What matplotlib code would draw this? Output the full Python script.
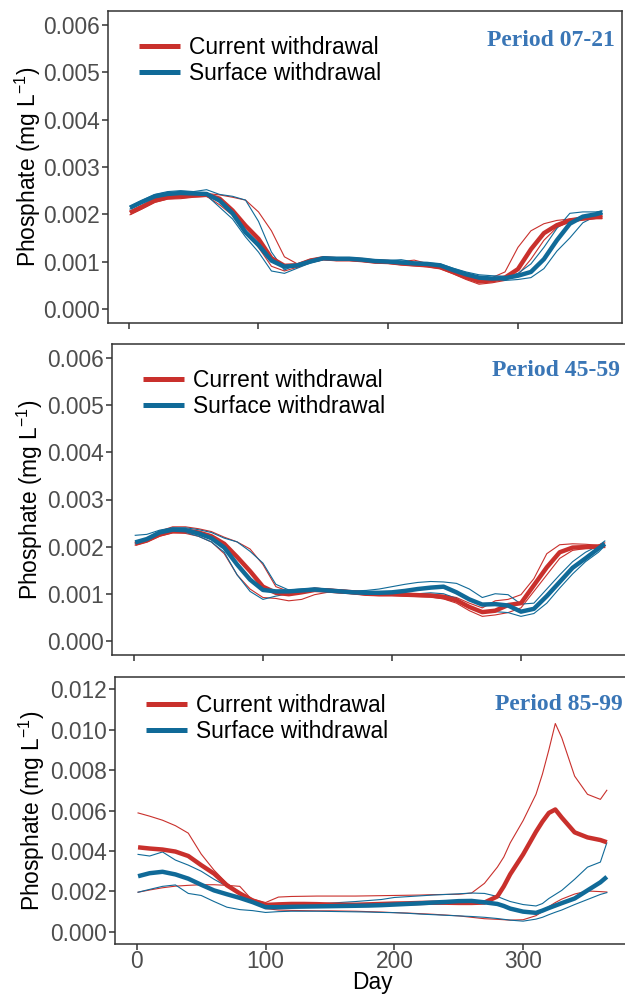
import matplotlib.pyplot as plt
import numpy as np

# Phosphate concentrations below are stored in units of 0.001 mg/L
days = [1, 10, 20, 30, 40, 50, 60, 70, 80, 90, 100, 110, 120, 130, 140, 150,
        160, 170, 180, 190, 200, 210, 220, 230, 240, 250, 260, 270, 280, 290,
        300, 310, 320, 330, 340, 350, 360, 365]

# Period 07-21
p1_cur_mean = [2.03, 2.15, 2.29, 2.36, 2.38, 2.40, 2.41, 2.33, 2.08, 1.76, 1.48, 1.07, 0.91,
               0.92, 1.02, 1.07, 1.05, 1.05, 1.03, 1.00, 0.99, 0.96, 0.94, 0.92, 0.88, 0.78,
               0.67, 0.58, 0.60, 0.66, 0.84, 1.26, 1.60, 1.77, 1.87, 1.91, 1.94, 1.94]
p1_cur_hi = [2.07, 2.19, 2.33, 2.40, 2.42, 2.43, 2.44, 2.41, 2.36, 2.30, 2.05, 1.65, 1.10,
             0.95, 1.05, 1.09, 1.08, 1.07, 1.05, 1.03, 1.02, 1.00, 1.03, 0.96, 0.92, 0.83,
             0.72, 0.63, 0.66, 0.78, 1.30, 1.65, 1.80, 1.87, 1.90, 1.93, 1.97, 1.96]
p1_cur_lo = [1.99, 2.11, 2.25, 2.32, 2.33, 2.36, 2.38, 2.20, 1.98, 1.62, 1.30, 0.90, 0.80,
             0.88, 0.98, 1.04, 1.02, 1.02, 1.00, 0.97, 0.96, 0.93, 0.91, 0.89, 0.85, 0.74,
             0.62, 0.52, 0.55, 0.60, 0.72, 1.05, 1.45, 1.72, 1.84, 1.88, 1.91, 1.92]
p1_srf_mean = [2.14, 2.26, 2.38, 2.43, 2.45, 2.44, 2.43, 2.29, 2.02, 1.62, 1.35, 1.02, 0.89,
               0.92, 1.00, 1.07, 1.06, 1.06, 1.04, 1.01, 1.00, 0.98, 0.96, 0.95, 0.92, 0.82,
               0.73, 0.66, 0.64, 0.65, 0.70, 0.78, 1.05, 1.45, 1.80, 1.95, 2.00, 2.04]
p1_srf_hi = [2.17, 2.29, 2.42, 2.48, 2.50, 2.48, 2.52, 2.42, 2.38, 2.30, 1.85, 1.20, 0.82,
             0.95, 1.03, 1.09, 1.08, 1.08, 1.06, 1.03, 1.02, 1.04, 0.99, 0.97, 0.95, 0.86,
             0.78, 0.72, 0.70, 0.69, 0.75, 0.95, 1.30, 1.70, 2.02, 2.05, 2.05, 2.07]
p1_srf_lo = [2.11, 2.23, 2.35, 2.39, 2.40, 2.40, 2.40, 2.15, 1.90, 1.52, 1.20, 0.80, 0.75,
             0.86, 0.97, 1.04, 1.03, 1.03, 1.01, 0.98, 0.97, 0.95, 0.93, 0.92, 0.88, 0.78,
             0.69, 0.62, 0.60, 0.60, 0.62, 0.66, 0.85, 1.22, 1.50, 1.82, 1.96, 2.01]

# Period 45-59
p2_cur_mean = [2.06, 2.13, 2.26, 2.33, 2.34, 2.30, 2.22, 2.06, 1.78, 1.48, 1.15, 1.02, 0.99,
               1.03, 1.08, 1.07, 1.05, 1.03, 1.00, 0.99, 0.99, 0.98, 0.97, 0.96, 0.93, 0.86,
               0.72, 0.61, 0.64, 0.76, 0.80, 1.18, 1.56, 1.88, 1.98, 1.99, 2.00, 2.04]
p2_cur_hi = [2.09, 2.18, 2.33, 2.42, 2.42, 2.38, 2.32, 2.20, 2.10, 1.95, 1.62, 1.15, 1.05,
             1.07, 1.12, 1.10, 1.08, 1.06, 1.03, 1.02, 1.02, 1.01, 1.00, 0.99, 0.97, 0.92,
             0.80, 0.70, 0.85, 0.88, 0.98, 1.32, 1.85, 2.04, 2.06, 2.05, 2.03, 2.08]
p2_cur_lo = [2.03, 2.10, 2.22, 2.29, 2.28, 2.22, 2.10, 1.85, 1.40, 1.10, 0.92, 0.90, 0.85,
             0.88, 0.98, 1.03, 1.02, 1.00, 0.97, 0.96, 0.96, 0.95, 0.94, 0.93, 0.89, 0.80,
             0.64, 0.52, 0.55, 0.60, 0.70, 1.05, 1.40, 1.75, 1.92, 1.96, 1.97, 1.98]
p2_srf_mean = [2.09, 2.16, 2.30, 2.36, 2.35, 2.28, 2.18, 1.98, 1.62, 1.30, 1.08, 1.05, 1.05,
               1.07, 1.09, 1.07, 1.05, 1.03, 1.02, 1.02, 1.03, 1.06, 1.10, 1.13, 1.15, 1.03,
               0.88, 0.77, 0.78, 0.75, 0.62, 0.68, 0.95, 1.25, 1.55, 1.75, 1.96, 2.06]
p2_srf_hi = [2.24, 2.26, 2.35, 2.40, 2.40, 2.36, 2.30, 2.18, 2.10, 1.90, 1.65, 1.20, 1.08,
             1.10, 1.12, 1.10, 1.08, 1.06, 1.07, 1.10, 1.15, 1.20, 1.24, 1.26, 1.25, 1.22,
             1.10, 0.92, 1.00, 0.98, 0.78, 0.80, 1.10, 1.40, 1.68, 1.88, 2.02, 2.12]
p2_srf_lo = [2.06, 2.12, 2.25, 2.31, 2.30, 2.22, 2.10, 1.88, 1.40, 1.05, 0.88, 0.95, 1.00,
             1.03, 1.06, 1.04, 1.02, 1.00, 0.98, 0.98, 0.98, 0.99, 1.00, 1.02, 1.00, 0.90,
             0.72, 0.60, 0.62, 0.60, 0.52, 0.58, 0.80, 1.12, 1.42, 1.68, 1.88, 2.02]

# Period 85-99 (finer steps around the autumn peak)
days3 = [1, 10, 20, 30, 40, 50, 60, 70, 80, 90, 100, 110, 120, 130, 140, 150, 160,
         170, 180, 190, 200, 210, 220, 230, 240, 250, 260, 270, 280, 285, 290, 300,
         310, 315, 320, 325, 330, 340, 350, 360, 365]
p3_cur_mean = [4.18, 4.12, 4.07, 3.97, 3.75, 3.30, 2.88, 2.30, 1.90, 1.55, 1.33, 1.36, 1.38,
               1.38, 1.37, 1.35, 1.34, 1.34, 1.36, 1.38, 1.40, 1.41, 1.43, 1.44, 1.44, 1.43,
               1.43, 1.45, 1.75, 2.25, 2.85, 3.83, 4.95, 5.45, 5.88, 6.05, 5.65, 4.92, 4.67,
               4.54, 4.43]
p3_cur_hi = [5.88, 5.72, 5.52, 5.25, 4.88, 3.85, 3.05, 2.40, 1.95, 1.62, 1.45, 1.72, 1.75,
             1.76, 1.77, 1.77, 1.77, 1.77, 1.78, 1.79, 1.80, 1.81, 1.82, 1.84, 1.85, 1.86,
             1.92, 2.40, 3.20, 3.70, 4.40, 5.50, 6.80, 7.80, 9.00, 10.30, 9.60, 7.70, 6.80,
             6.55, 7.00]
p3_cur_lo = [1.96, 2.07, 2.18, 2.26, 2.30, 2.33, 2.33, 2.30, 2.25, 1.55, 1.15, 1.08, 1.06,
             1.05, 1.04, 1.04, 1.03, 1.02, 1.00, 0.98, 0.95, 0.93, 0.90, 0.87, 0.83, 0.79,
             0.72, 0.65, 0.62, 0.60, 0.58, 0.60, 0.80, 1.00, 1.25, 1.45, 1.62, 1.87, 2.02,
             1.99, 1.97]
p3_srf_mean = [2.75, 2.90, 2.97, 2.84, 2.63, 2.33, 2.05, 1.86, 1.68, 1.47, 1.22, 1.22, 1.24,
               1.25, 1.26, 1.27, 1.28, 1.29, 1.30, 1.32, 1.35, 1.38, 1.41, 1.45, 1.48, 1.52,
               1.53, 1.46, 1.38, 1.28, 1.15, 1.00, 0.94, 1.05, 1.18, 1.30, 1.42, 1.65, 2.05,
               2.45, 2.72]
p3_srf_hi = [3.83, 3.75, 3.95, 3.55, 3.30, 3.00, 2.60, 2.25, 1.92, 1.50, 1.22, 1.28, 1.32,
             1.35, 1.38, 1.42, 1.46, 1.50, 1.55, 1.60, 1.70, 1.74, 1.78, 1.82, 1.85, 1.88,
             1.92, 1.90, 1.75, 1.62, 1.50, 1.35, 1.28, 1.40, 1.65, 1.85, 2.05, 2.60, 3.20,
             3.45, 4.40]
p3_srf_lo = [1.96, 2.10, 2.25, 2.32, 1.90, 1.80, 1.50, 1.22, 1.10, 1.05, 0.96, 1.00, 1.02,
             1.02, 1.02, 1.01, 1.00, 0.99, 0.98, 0.96, 0.95, 0.92, 0.88, 0.85, 0.82, 0.79,
             0.76, 0.72, 0.66, 0.62, 0.58, 0.53, 0.63, 0.72, 0.85, 0.97, 1.08, 1.35, 1.60,
             1.85, 1.94]

period_names = ['Period 07-21', 'Period 45-59', 'Period 85-99']
series_names = ['Current withdrawal', 'Surface withdrawal']

RED = '#C9302C'
BLUE = '#106A98'
W, H = 625, 994

plt.rcParams['font.family'] = ['Liberation Sans', 'DejaVu Sans']
plt.rcParams['mathtext.fontset'] = 'custom'
plt.rcParams['mathtext.rm'] = 'Liberation Sans'
plt.rcParams['mathtext.it'] = 'Liberation Sans'

fig = plt.figure(figsize=(W / 100, H / 100), dpi=100)


def pixel_axes(left, top, right, bottom):
    return fig.add_axes([left / W, 1 - bottom / H, (right - left) / W, (bottom - top) / H])


def fy(y):
    # pixel row from the top -> figure fraction
    return 1 - y / H


# per panel: box in pixels, x limits, y limits, y ticks, y label x,
# legend top/left, period label right/centre
layout = [
    ((108, 11, 622, 323), (-16.0, 380.2), (-0.0003, 0.0063), np.arange(0, 0.0061, 0.001),
     28, 36, 139, 615, 41),
    ((112, 344, 630, 655), (-17.0, 384.5), (-0.0003, 0.0063), np.arange(0, 0.0061, 0.001),
     30, 369, 143, 620, 370),
    ((115, 677, 630, 944), (-16.9, 383.0), (-0.0006, 0.0126), np.arange(0, 0.0121, 0.002),
     32, 694, 146, 623, 705),
]

panels = [
    (days, p1_cur_mean, p1_cur_hi, p1_cur_lo, p1_srf_mean, p1_srf_hi, p1_srf_lo),
    (days, p2_cur_mean, p2_cur_hi, p2_cur_lo, p2_srf_mean, p2_srf_hi, p2_srf_lo),
    (days3, p3_cur_mean, p3_cur_hi, p3_cur_lo, p3_srf_mean, p3_srf_hi, p3_srf_lo),
]

for i, (lay, pan) in enumerate(zip(layout, panels)):
    box, xlim, ylim, yticks, ylab_x, leg_top, leg_left, per_x, per_y = lay
    d, cm, ch, cl, sm, sh, sl = pan
    d = np.array(d)
    ax = pixel_axes(*box)

    # thin lines for the spread, thick lines for the mean
    for vals in (ch, cl):
        ax.plot(d, np.array(vals) * 1e-3, color=RED, lw=0.8)
    for vals in (sh, sl):
        ax.plot(d, np.array(vals) * 1e-3, color=BLUE, lw=0.8)
    l1, = ax.plot(d, np.array(cm) * 1e-3, color=RED, lw=3.2, solid_capstyle='butt')
    l2, = ax.plot(d, np.array(sm) * 1e-3, color=BLUE, lw=3.2, solid_capstyle='butt')

    ax.set_xlim(*xlim)
    ax.set_ylim(*ylim)
    ax.set_xticks([0, 100, 200, 300])
    ax.set_yticks(yticks)
    ax.set_yticklabels(['%.3f' % v for v in yticks])
    if i < 2:
        ax.set_xticklabels([])
    else:
        fig.text((box[0] + box[2]) / 2 / W, fy(982.5), 'Day', ha='center', va='center',
                 fontsize=16.4)

    for s in ax.spines.values():
        s.set_color('#333333')
        s.set_linewidth(1.1)
    ax.tick_params(direction='out', length=4, width=1.1, color='#333333',
                   labelcolor='#4D4D4D', labelsize=16.4, pad=2)
    ax.tick_params(axis='x', pad=0.5)

    top, bottom = box[1], box[3]
    fig.text(ylab_x / W, fy((top + bottom) / 2), 'Phosphate (mg L$^{-1}$)',
             rotation=90, ha='center', va='center', fontsize=16.4)

    ax.legend([l1, l2], series_names, loc='upper left', frameon=False,
              bbox_to_anchor=(leg_left / W, fy(leg_top)), bbox_transform=fig.transFigure,
              borderpad=0, borderaxespad=0, handlelength=1.8, handletextpad=0.4,
              labelspacing=0.13, fontsize=16.4)
    for h in ax.get_legend().get_lines():
        h.set_linewidth(3.6)

    fig.text(per_x / W, fy(per_y), period_names[i], ha='right', va='center',
             family='Liberation Serif', fontweight='bold', fontsize=17, color='#3A76B6')

fig.savefig('out.png', dpi=100)
